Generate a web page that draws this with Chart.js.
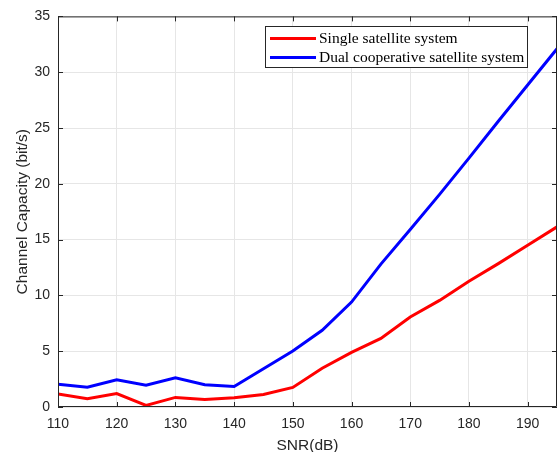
<!DOCTYPE html>
<html>
<head>
<meta charset="utf-8">
<script src="https://cdn.jsdelivr.net/npm/chart.js@4/dist/chart.umd.min.js"></script>
<style>
html,body{margin:0;padding:0;background:#fff;}
#c{display:block;}
</style>
</head>
<body>
<canvas id="c" width="560" height="452"></canvas>
<script>
const snr = [110,115,120,125,130,135,140,145,150,155,160,165,170,175,180,185,190,195];
const singleSat = [1.16,0.74,1.21,0.15,0.86,0.68,0.83,1.12,1.75,3.47,4.9,6.14,8.07,9.55,11.27,12.85,14.5,16.14];
const dualSat = [2.05,1.78,2.43,1.96,2.61,1.99,1.84,3.42,5.01,6.88,9.4,12.8,15.9,19.05,22.3,25.6,28.85,32.1];
const seriesNames = ["Single satellite system","Dual cooperative satellite system"];
const xTicks = [110,120,130,140,150,160,170,180,190];
const yTicks = [0,5,10,15,20,25,30,35];

const axisColor = '#262626';

const pts = (xs, ys) => xs.map((x,i)=>({x:x,y:ys[i]}));

const frame = {
  id:'frame',
  afterDatasetsDraw(chart){
    const {ctx, chartArea:a, scales} = chart;
    ctx.save();
    ctx.strokeStyle = axisColor;
    ctx.lineWidth = 1;
    ctx.beginPath();
    ctx.rect(a.left+0.5, a.top+0.5, a.right-a.left-1, a.bottom-a.top-1);
    ctx.stroke();
    ctx.beginPath();
    const tl = 5;
    xTicks.forEach(v=>{
      const x = Math.round(scales.x.getPixelForValue(v))+0.5;
      ctx.moveTo(x,a.bottom); ctx.lineTo(x,a.bottom-tl);
      ctx.moveTo(x,a.top); ctx.lineTo(x,a.top+tl);
    });
    yTicks.forEach(v=>{
      const y = Math.round(scales.y.getPixelForValue(v))+0.5;
      ctx.moveTo(a.left,y); ctx.lineTo(a.left+tl,y);
      ctx.moveTo(a.right,y); ctx.lineTo(a.right-tl,y);
    });
    ctx.stroke();
    // legend box
    const bx=265.5, by=26.5, bw=262, bh=41;
    ctx.fillStyle='#fff';
    ctx.fillRect(bx,by,bw,bh);
    ctx.strokeStyle='#262626';
    ctx.strokeRect(bx,by,bw,bh);
    const rows=[{c:'#ff0000',y:38.5},{c:'#0000ff',y:57.5}];
    ctx.font='15.5px "Liberation Serif", "Times New Roman", serif';
    ctx.textBaseline='middle';
    ctx.textAlign='left';
    rows.forEach((r,i)=>{
      ctx.strokeStyle=r.c; ctx.lineWidth=3;
      ctx.beginPath(); ctx.moveTo(270,r.y); ctx.lineTo(316,r.y); ctx.stroke();
      ctx.fillStyle='#000';
      ctx.fillText(seriesNames[i],319,r.y);
    });
    ctx.restore();
  }
};

new Chart(document.getElementById('c'),{
  type:'line',
  data:{
    datasets:[
      {label:seriesNames[0],data:pts(snr,singleSat),borderColor:'#ff0000',borderWidth:3,pointRadius:0,tension:0,fill:false},
      {label:seriesNames[1],data:pts(snr,dualSat),borderColor:'#0000ff',borderWidth:3,pointRadius:0,tension:0,fill:false}
    ]
  },
  options:{
    responsive:false,
    animation:false,
    layout:{padding:{top:14,right:3,left:0,bottom:0}},
    plugins:{legend:{display:false},tooltip:{enabled:false}},
    scales:{
      x:{
        type:'linear',min:110,max:195,
        afterBuildTicks(s){s.ticks=xTicks.map(v=>({value:v}));},
        afterFit(s){s.height=45;},
        grid:{color:'#e6e6e6',drawTicks:false},
        border:{display:false},
        ticks:{color:axisColor,font:{family:'"Liberation Sans", Arial, sans-serif',size:14},padding:9,maxRotation:0},
        title:{display:true,text:'SNR(dB)',color:axisColor,font:{family:'"Liberation Sans", Arial, sans-serif',size:15.5},padding:{top:0,bottom:-3}}
      },
      y:{
        type:'linear',min:0,max:35,
        afterBuildTicks(s){s.ticks=yTicks.map(v=>({value:v}));},
        afterFit(s){s.width=58;},
        grid:{color:'#e6e6e6',drawTicks:false},
        border:{display:false},
        ticks:{color:axisColor,font:{family:'"Liberation Sans", Arial, sans-serif',size:14},padding:8},
        title:{display:true,text:'Channel Capacity (bit/s)',color:axisColor,font:{family:'"Liberation Sans", Arial, sans-serif',size:15.5},padding:{top:13,bottom:0}}
      }
    }
  },
  plugins:[frame]
});
</script>
</body>
</html>
